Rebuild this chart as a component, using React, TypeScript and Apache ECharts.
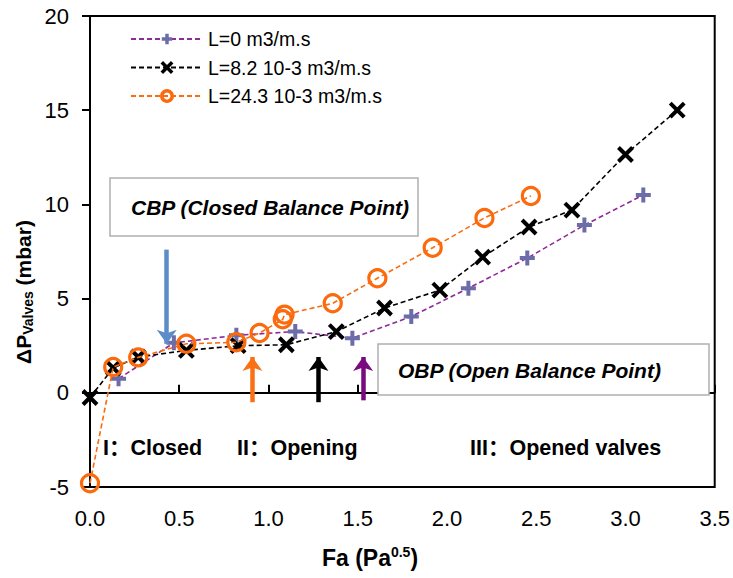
import React, { useEffect, useRef } from 'react';
import * as echarts from 'echarts';

// L = 0 m3/m.s
const faPlus = [0.16, 0.47, 0.82, 1.15, 1.47, 1.8, 2.12, 2.45, 2.77, 3.1];
const dpPlus = [0.75, 2.65, 3.05, 3.25, 2.9, 4.05, 5.55, 7.15, 8.9, 10.5];

// L = 8.2 10-3 m3/m.s
const faCross = [0, 0.13, 0.27, 0.54, 0.83, 1.1, 1.38, 1.65, 1.96, 2.2, 2.46, 2.7, 3.0, 3.29];
const dpCross = [-0.25, 1.32, 1.9, 2.25, 2.5, 2.55, 3.25, 4.5, 5.45, 7.2, 8.8, 9.7, 12.65, 15.0];

// L = 24.3 10-3 m3/m.s
const faCircle = [0, 0.13, 0.27, 0.54, 0.82, 0.95, 1.08, 1.09, 1.36, 1.61, 1.92, 2.21, 2.47];
const dpCircle = [-4.8, 1.37, 1.88, 2.6, 2.68, 3.17, 3.9, 4.15, 4.75, 6.08, 7.7, 9.28, 10.45];

const seriesNames = ['L=0 m3/m.s', 'L=8.2 10-3 m3/m.s', 'L=24.3 10-3 m3/m.s'];

// arrows: [fa, from dP, to dP]
const arrowCBP = [0.43, 7.6, 2.6];
const arrowOrange = [0.91, -0.5, 1.9];
const arrowBlack = [1.28, -0.5, 1.9];
const arrowPurple = [1.53, -0.4, 1.9];

const xTicks = [0, 0.5, 1, 1.5, 2, 2.5, 3, 3.5];

const FONT = "'Liberation Sans', Arial, sans-serif";
const FONT_CJK = "'Liberation Sans', 'Noto Sans CJK SC', sans-serif";

const zip = (xs: number[], ys: number[]) => xs.map((x, i) => [x, ys[i]]);

const arrowLine = (a: number[], color: string) => [
  { coord: [a[0], a[1]], lineStyle: { color, width: 4.5, type: 'solid' }, itemStyle: { color } },
  { coord: [a[0], a[2]] },
];

const boldText = (text: string, x: number, y: number, italic = false) => ({
  type: 'text',
  z: 101,
  x,
  y,
  style: {
    text,
    fontFamily: italic ? FONT : FONT_CJK,
    fontSize: italic ? 21 : 21.5,
    fontWeight: 'bold',
    fontStyle: italic ? 'italic' : 'normal',
    fill: '#000',
    verticalAlign: 'middle',
  },
});

const App: React.FC = () => {
  const chartRef = useRef<HTMLDivElement>(null);

  useEffect(() => {
    document.body.style.margin = '0';
    if (!chartRef.current) return;
    const chart = echarts.init(chartRef.current, undefined, { renderer: 'svg' });

    const option: any = {
      animation: false,
      grid: {
        left: 90,
        right: 18,
        top: 16,
        bottom: 91,
        show: true,
        borderColor: '#000',
        borderWidth: 2,
        backgroundColor: 'transparent',
      },
      legend: {
        orient: 'vertical',
        left: 130,
        top: 29,
        padding: 0,
        itemWidth: 72,
        itemHeight: 13,
        itemGap: 8.5,
        data: seriesNames,
        itemStyle: { borderWidth: 3.5 },
        textStyle: { fontFamily: FONT, fontSize: 19.5, color: '#000' },
      },
      xAxis: {
        type: 'value',
        min: 0,
        max: 3.5,
        interval: 0.5,
        axisLine: { lineStyle: { color: '#000', width: 2 } },
        axisTick: { inside: true, length: 8, lineStyle: { color: '#000', width: 2 } },
        axisLabel: {
          margin: 20,
          fontFamily: FONT,
          fontSize: 22,
          color: '#000',
          customValues: xTicks,
          formatter: (v: number) => v.toFixed(1),
        },
        splitLine: { show: false },
      },
      yAxis: {
        type: 'value',
        min: -5,
        max: 20,
        interval: 5,
        axisLine: { show: true, lineStyle: { color: '#000', width: 2 } },
        axisTick: { show: true, inside: false, length: 8, lineStyle: { color: '#000', width: 2 } },
        axisLabel: { margin: 21, fontFamily: FONT, fontSize: 22, color: '#000' },
        splitLine: { show: false },
      },
      series: [
        {
          name: seriesNames[0],
          type: 'line',
          data: zip(faPlus, dpPlus),
          symbol: 'path://M5,0L5,10M0,5L10,5',
          symbolSize: 15,
          itemStyle: { color: 'rgba(0,0,0,0)', borderColor: '#6c6ca8', borderWidth: 4 },
          lineStyle: { color: '#8f2a97', width: 1.6, type: [5, 3] },
          z: 3,
        },
        {
          name: seriesNames[1],
          type: 'line',
          data: zip(faCross, dpCross),
          symbol: 'path://M0,0L10,10M10,0L0,10',
          symbolSize: 14,
          itemStyle: { color: 'rgba(0,0,0,0)', borderColor: '#000', borderWidth: 4 },
          lineStyle: { color: '#000', width: 1.6, type: [5, 3] },
          z: 4,
        },
        {
          name: seriesNames[2],
          type: 'line',
          data: zip(faCircle, dpCircle),
          symbol: 'circle',
          symbolSize: 17,
          itemStyle: { color: 'rgba(0,0,0,0)', borderColor: '#fb6a0c', borderWidth: 3.2 },
          lineStyle: { color: '#fb6a0c', width: 1.6, type: [5, 3] },
          z: 5,
        },
        {
          name: 'arrows',
          type: 'line',
          data: [],
          z: 6,
          markLine: {
            silent: true,
            animation: false,
            symbol: ['none', 'arrow'],
            symbolSize: [15, 14],
            label: { show: false },
            data: [
              arrowLine(arrowCBP, '#5b8dc9'),
              arrowLine(arrowOrange, '#fa7014'),
              arrowLine(arrowBlack, '#000'),
              arrowLine(arrowPurple, '#7a0a80'),
            ],
          },
        },
      ],
      graphic: [
        {
          type: 'rect',
          z: 100,
          shape: { x: 110, y: 178, width: 308, height: 58 },
          style: { fill: '#fff', stroke: '#b0b0b0', lineWidth: 1.5 },
        },
        boldText('CBP (Closed Balance Point)', 131, 207, true),
        {
          type: 'rect',
          z: 100,
          shape: { x: 378, y: 344, width: 331, height: 51 },
          style: { fill: '#fff', stroke: '#b0b0b0', lineWidth: 1.5 },
        },
        boldText('OBP (Open Balance Point)', 398, 370, true),
        boldText('I：Closed', 103, 448),
        boldText('II：Opening', 237, 448),
        boldText('III：Opened valves', 470, 448),
        {
          type: 'text',
          x: 370,
          y: 558,
          style: {
            text: '{b|Fa (Pa}{sup|0.5}{b|)}',
            align: 'center',
            verticalAlign: 'middle',
            rich: {
              b: { fontFamily: FONT, fontSize: 23, fontWeight: 'bold', fill: '#000' },
              sup: { fontFamily: FONT, fontSize: 14, fontWeight: 'bold', fill: '#000', padding: [0, 0, 12, 0] },
            },
          },
        },
        {
          type: 'text',
          x: 23,
          y: 292,
          rotation: Math.PI / 2,
          style: {
            text: '{b|ΔP}{sub|Valves}{b| (mbar)}',
            align: 'center',
            verticalAlign: 'middle',
            rich: {
              b: { fontFamily: FONT, fontSize: 21, fontWeight: 'bold', fill: '#000' },
              sub: { fontFamily: FONT, fontSize: 14, fontWeight: 'bold', fill: '#000', padding: [10, 0, 0, 0] },
            },
          },
        },
      ],
    };

    chart.setOption(option);

    return () => {
      chart.dispose();
    };
  }, []);

  return <div ref={chartRef} style={{ width: '733px', height: '578px' }} />;
};

export default App;
